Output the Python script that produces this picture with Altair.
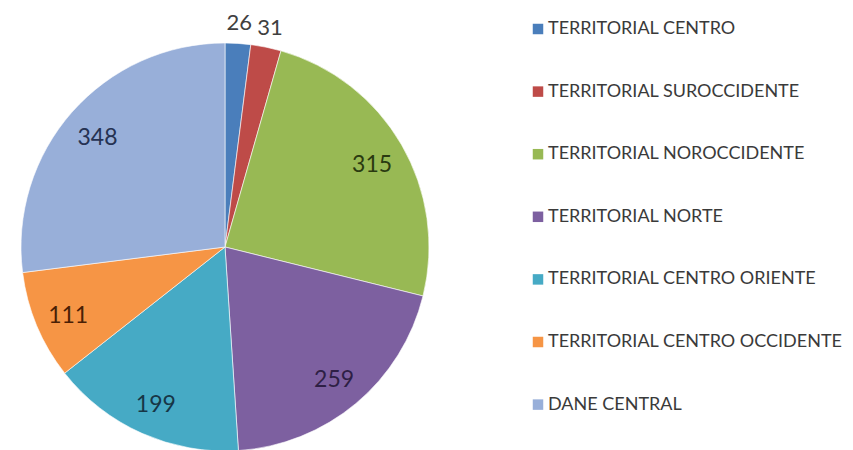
import altair as alt
import pandas as pd

categories = [
    "TERRITORIAL CENTRO",
    "TERRITORIAL SUROCCIDENTE",
    "TERRITORIAL NOROCCIDENTE",
    "TERRITORIAL NORTE",
    "TERRITORIAL CENTRO ORIENTE",
    "TERRITORIAL CENTRO OCCIDENTE",
    "DANE CENTRAL",
]
values = [26, 31, 315, 259, 199, 111, 348]
slice_colors = ["#4A7EBB", "#BE4B48", "#98B954", "#7D60A0", "#46AAC5", "#F69545", "#98AFD9"]
label_colors = ["#404040", "#404040", "#2A3A10", "#2E1F45", "#173646", "#4A1F05", "#253252"]

df = pd.DataFrame({"cat": categories, "v": values, "idx": list(range(len(values)))})

CX, CY, R = 217, 239, 204

base = alt.Chart(df).encode(
    theta=alt.Theta("v:Q", stack=True),
    order=alt.Order("idx:Q"),
)

pie = base.mark_arc(outerRadius=R, stroke="white", strokeWidth=0.6).encode(
    x=alt.value(CX),
    y=alt.value(CY),
    color=alt.Color(
        "cat:N",
        scale=alt.Scale(domain=categories, range=slice_colors),
        sort=categories,
        legend=alt.Legend(
            title=None,
            orient="none",
            legendX=521,
            legendY=12,
            symbolType="square",
            symbolSize=110,
            symbolStrokeWidth=0,
            labelFont="Lato",
            labelFontSize=18,
            labelColor="#3A3A3A",
            labelLimit=0,
            rowPadding=44.6,
            padding=0,
            labelOffset=1,
        ),
    ),
)

label_color = alt.Color("cat:N", scale=alt.Scale(domain=categories, range=label_colors), legend=None)

inner_labels = base.transform_calculate(
    lab="datum.v >= 50 ? format(datum.v, 'd') : ''"
).mark_text(font="Lato", fontSize=23, radius=170, dy=3).encode(
    x=alt.value(CX),
    y=alt.value(CY),
    text=alt.Text("lab:N"),
    color=label_color,
)

outer_labels = base.transform_calculate(
    lab="datum.v < 50 ? format(datum.v, 'd') : ''"
).mark_text(font="Lato", fontSize=22, radius=224).encode(
    x=alt.value(CX),
    y=alt.value(CY),
    text=alt.Text("lab:N"),
    color=label_color,
)

chart = alt.layer(pie, inner_labels, outer_labels).resolve_scale(color="independent").properties(
    width=837, height=442, autosize=alt.AutoSizeParams(type="none"), padding=0
).configure_view(stroke=None)

chart.save("out.html", embed_options={"renderer": "svg", "actions": False})
